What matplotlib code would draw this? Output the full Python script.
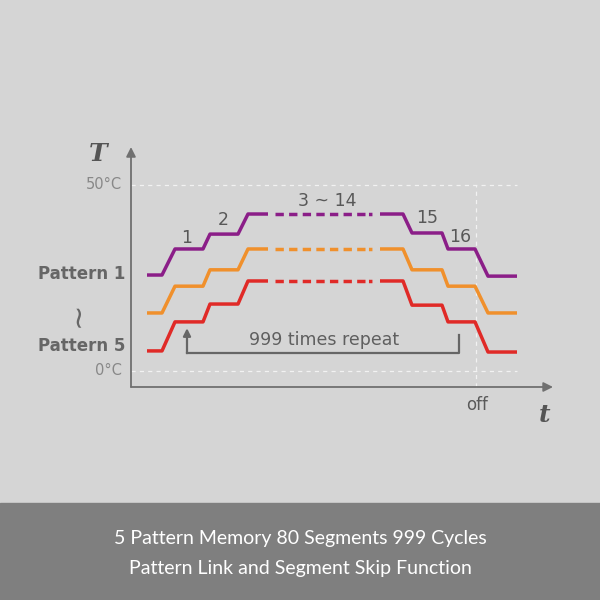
import matplotlib.pyplot as plt
from matplotlib.patches import Rectangle

plt.rcParams['lines.scale_dashes'] = False

# step levels (deg C): start, seg1, seg2, top (3~14), seg15, seg16, end
purple = [25.8, 32.8, 36.8, 42.2, 37.1, 32.8, 25.5]
orange = [15.6, 22.8, 27.2, 32.8, 27.2, 22.8, 15.6]
red = [5.4, 13.2, 18.0, 24.2, 17.7, 13.2, 5.1]
colors = ['#8b1e88', '#f0902c', '#e02a27']

# time knots (arbitrary units) shared by all patterns
t_rise = [1.6, 3.1, 4.4, 7.2, 7.9, 10.7, 11.7, 13.7]
t_dash = [14.4, 24.3]
t_fall = [24.9, 27.2, 28.1, 31.1, 31.7, 34.4, 35.7, 38.6]
t_off = 34.5
t_end_axis = 42.2
T_base = -4.3
T_top_axis = 60.2

seg_labels = ['1', '2', '3 ~ 14', '15', '16']
seg_label_t = [5.6, 9.2, 19.6, 29.6, 32.9]
seg_label_T = [35.8, 40.6, 45.8, 41.0, 36.0]

fig = plt.figure(figsize=(6, 6), dpi=100)
fig.patch.set_facecolor('#d5d5d5')
ax = fig.add_axes([0, 0, 1, 1])
ax.set_xlim(-13.1, 46.9)
ax.set_ylim(-61.56, 99.73)
ax.axis('off')

# dashed guide lines
grid = dict(color='#f2f2f2', lw=0.9, dashes=(3, 3))
ax.plot([0, 38.6], [50, 50], **grid)
ax.plot([0, 38.6], [0, 0], **grid)
ax.plot([t_off, t_off], [T_base, 50], **grid)

# axes with arrows
ax.annotate('', xy=(0, T_top_axis), xytext=(0, T_base),
            arrowprops=dict(arrowstyle='-|>', color='#707070', lw=1.3,
                            mutation_scale=14, shrinkA=0, shrinkB=0))
ax.annotate('', xy=(t_end_axis, T_base), xytext=(0, T_base),
            arrowprops=dict(arrowstyle='-|>', color='#707070', lw=1.3,
                            mutation_scale=14, shrinkA=0, shrinkB=0))

for lv, c in zip([purple, orange, red], colors):
    s, a, b, top, d, e, f = lv
    rise_T = [s, s, a, a, b, b, top, top]
    fall_T = [top, top, d, d, e, e, f, f]
    kw = dict(color=c, lw=2.5, solid_capstyle='butt', dash_capstyle='butt')
    ax.plot(t_rise, rise_T, **kw)
    ax.plot(t_dash, [top, top], dashes=(6, 3.8, 6, 3.8, 6, 3.8, 6, 3.8, 6, 3.8, 6, 3.8, 6, 2.5, 2.5, 10), **kw)
    ax.plot(t_fall, fall_T, **kw)

for lab, x, y in zip(seg_labels, seg_label_t, seg_label_T):
    ax.text(x, y, lab, ha='center', va='center', fontsize=12.5, color='#585858')

# repeat bracket
ax.plot([5.6, 32.8, 32.8], [4.8, 4.8, 9.7], color='#666666', lw=1.6)
ax.annotate('', xy=(5.6, 11.5), xytext=(5.6, 4.8),
            arrowprops=dict(arrowstyle='-|>', color='#666666', lw=1.6,
                            mutation_scale=11, shrinkA=0, shrinkB=0))
ax.text(19.3, 8.4, '999 times repeat', ha='center', va='center',
        fontsize=12.5, color='#5f5f5f')

# axis texts
ax.text(-0.9, 50, '50°C', ha='right', va='center', fontsize=10.5, color='#888888')
ax.text(-0.9, 0, '0°C', ha='right', va='center', fontsize=10.5, color='#888888')
ax.text(-0.6, purple[0] + 0.2, 'Pattern 1', ha='right', va='center',
        fontsize=12, fontweight='bold', color='#666666')
ax.text(-0.6, red[0] + 1.3, 'Pattern 5', ha='right', va='center',
        fontsize=12, fontweight='bold', color='#666666')
ax.text(-5.3, 15.2, '~', ha='center', va='center', fontsize=22, color='#666666',
        rotation=90)
ax.text(-3.3, 58.2, 'T', ha='center', va='center', fontsize=18, color='#555555',
        family='DejaVu Serif', style='italic', fontweight='bold')
ax.text(41.4, -11.7, 't', ha='center', va='center', fontsize=18, color='#555555',
        family='DejaVu Serif', style='italic', fontweight='bold')
ax.text(t_off + 0.1, -9.2, 'off', ha='center', va='center', fontsize=12,
        color='#5a5a5a')

# bottom caption band
fig.patches.append(Rectangle((0, 0), 1, 97 / 600, transform=fig.transFigure,
                             color='#7f7f7f', zorder=0))
fig.text(0.5, 0.103, '5 Pattern Memory 80 Segments 999 Cycles', ha='center',
         va='center', fontsize=14, color='white', family='Lato')
fig.text(0.5, 0.053, 'Pattern Link and Segment Skip Function', ha='center',
         va='center', fontsize=14, color='white', family='Lato')

fig.savefig('out.png', dpi=100, facecolor=fig.get_facecolor())
